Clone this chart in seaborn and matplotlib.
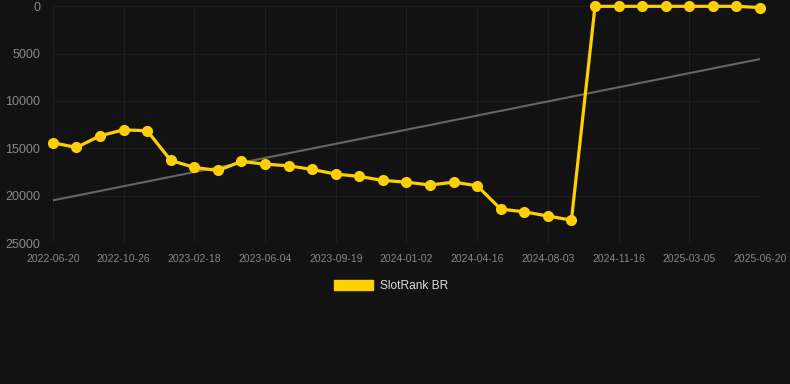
import numpy as np
import pandas as pd
import seaborn as sns
from matplotlib import pyplot as plt
from matplotlib.patches import Patch

# rank per snapshot (lower number = better rank)
rank = [14420, 14910, 13680, 13050, 13150, 16280, 17020, 17340, 16390, 16670,
        16850, 17230, 17720, 17970, 18390, 18570, 18880, 18570, 18950, 21420,
        21700, 22150, 22580, 20, 20, 20, 20, 20, 20, 20, 150]
tick_labels = ['2022-06-20', '2022-10-26', '2023-02-18', '2023-06-04', '2023-09-19',
               '2024-01-02', '2024-04-16', '2024-08-03', '2024-11-16', '2025-03-05',
               '2025-06-20']
series_name = 'SlotRank BR'

df = pd.DataFrame({'idx': range(len(rank)), 'rank': rank})

# linear trend
k, b = np.polyfit(df['idx'], df['rank'], 1)
df['trend'] = k * df['idx'] + b

bg = '#121212'
yellow = '#FFD000'

sns.set_style('dark')
plt.rcParams['font.family'] = ['Liberation Sans', 'DejaVu Sans']

fig = plt.figure(figsize=(7.9, 3.84), dpi=100, facecolor=bg)
ax = fig.add_axes([0.067, 0.367, 0.895, 0.617])
ax.set_facecolor(bg)

sns.lineplot(data=df, x='idx', y='trend', ax=ax, color='#666666', linewidth=1.5)
sns.lineplot(data=df, x='idx', y='rank', ax=ax, color=yellow, linewidth=2.3,
             marker='o', markersize=8, markeredgewidth=0, clip_on=False)

ax.set_ylim(25000, 0)
ax.set_yticks([0, 5000, 10000, 15000, 20000, 25000])
ax.set_xlim(0, len(rank) - 1)
ax.set_xticks(range(0, len(rank), 3))
ax.set_xticklabels(tick_labels)
ax.tick_params(axis='x', colors='#888888', labelsize=7.5, length=0, pad=8)
ax.tick_params(axis='y', colors='#888888', labelsize=9, length=0, pad=9)
ax.grid(True, color='#1d1d1d', linewidth=0.8)
ax.set_xlabel('')
ax.set_ylabel('')
for s in ax.spines.values():
    s.set_visible(False)

fig.legend(handles=[Patch(facecolor=yellow, edgecolor=yellow, label=series_name)],
           loc='center', bbox_to_anchor=(0.495, 0.256), frameon=False,
           fontsize=8.6, labelcolor='#dddddd', handlelength=3.3, handleheight=0.9,
           handletextpad=0.55)

plt.savefig('out.png', dpi=100, facecolor=bg)
